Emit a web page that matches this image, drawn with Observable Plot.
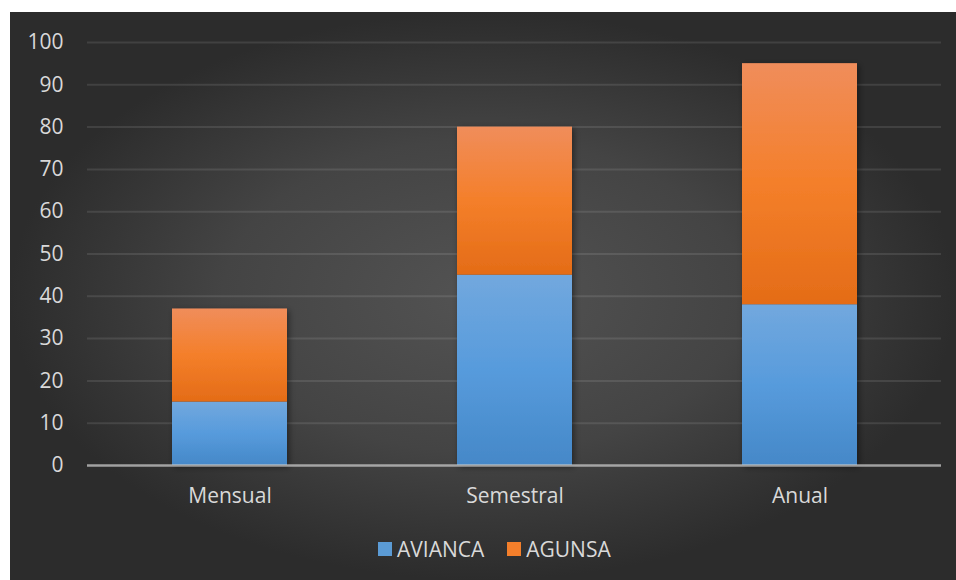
<!DOCTYPE html>
<html>
<head>
<meta charset="utf-8">
<script src="https://cdn.jsdelivr.net/npm/d3@7"></script>
<script src="https://cdn.jsdelivr.net/npm/@observablehq/plot@0.6"></script>
<style>
  html, body { margin: 0; padding: 0; background: #ffffff; }
  body { width: 956px; height: 580px; position: relative; overflow: hidden; }
  #panel {
    position: absolute; left: 10px; top: 12px; width: 946px; height: 568px;
    background: radial-gradient(ellipse closest-side at 50% 50%, #535353 0%, #444444 55%, #2c2c2c 100%);
    font-family: "Open Sans", "DejaVu Sans", sans-serif;
  }
  #chart { position: absolute; left: 0; top: 0; }
  #legend { position: absolute; left: 368px; top: 523px; display: flex; align-items: center; gap: 0; }
  .item { display: flex; align-items: center; color: #d9d9d9; font-size: 21px; margin-right: 23px; }
  .sw { width: 14px; height: 14px; margin-right: 5px; }
</style>
</head>
<body>
<div id="panel">
  <div id="chart"></div>
  <div id="legend"></div>
</div>
<script>
const categories = ["Mensual", "Semestral", "Anual"];
const seriesNames = ["AVIANCA", "AGUNSA"];
const avianca = [15, 45, 38];
const agunsa = [22, 35, 57];
const yTicks = [0, 10, 20, 30, 40, 50, 60, 70, 80, 90, 100];
const swatchColors = ["#5b9bd5", "#f47f2b"];

const values = [avianca, agunsa];
const table = [];
seriesNames.forEach((s, si) => {
  categories.forEach((c, ci) => table.push({category: c, series: s, value: values[si][ci]}));
});

const plot = Plot.plot({
  width: 946,
  height: 520,
  marginLeft: 77,
  marginRight: 15,
  marginTop: 30,
  marginBottom: 67,
  style: {background: "transparent", fontFamily: "'Open Sans', 'DejaVu Sans', sans-serif", fontSize: "21px", color: "#d9d9d9"},
  x: {domain: categories, paddingInner: 0.597, paddingOuter: 0.294, label: null},
  y: {domain: [0, 100], label: null},
  color: {domain: seriesNames, range: ["url(#gBlue)", "url(#gOrange)"]},
  marks: [
    Plot.ruleY(yTicks.filter(d => d > 0), {stroke: "#ffffff", strokeOpacity: 0.1, strokeWidth: 2}),
    Plot.barY(table, Plot.stackY({x: "category", y: "value", fill: "series", order: seriesNames})),
    Plot.ruleY([0], {stroke: "#c8c8c8", strokeOpacity: 0.75, strokeWidth: 2.5}),
    Plot.axisY({ticks: yTicks, tickSize: 0, tickPadding: 24, label: null, fill: "#d9d9d9", fontSize: 21}),
    Plot.axisX({tickSize: 0, tickPadding: 23, label: null, fill: "#d9d9d9", fontSize: 21})
  ]
});

// gradient & shadow defs
const svgNS = "http://www.w3.org/2000/svg";
const defs = document.createElementNS(svgNS, "defs");
defs.innerHTML = `
  <linearGradient id="gBlue" x1="0" y1="0" x2="0" y2="1">
    <stop offset="0" stop-color="#72a8de"/>
    <stop offset="0.5" stop-color="#579bdc"/>
    <stop offset="1" stop-color="#4588c8"/>
  </linearGradient>
  <linearGradient id="gOrange" x1="0" y1="0" x2="0" y2="1">
    <stop offset="0" stop-color="#f08d5b"/>
    <stop offset="0.5" stop-color="#f47f2a"/>
    <stop offset="1" stop-color="#e46c17"/>
  </linearGradient>
  <filter id="shadow" x="-20%" y="-10%" width="140%" height="120%">
    <feDropShadow dx="2" dy="2" stdDeviation="3" flood-color="#000" flood-opacity="0.45"/>
  </filter>`;
plot.insertBefore(defs, plot.firstChild);
const barG = plot.querySelector('g[aria-label="bar"]');
if (barG) barG.setAttribute("filter", "url(#shadow)");

document.getElementById("chart").appendChild(plot);

const legend = document.getElementById("legend");
seriesNames.forEach((s, i) => {
  const item = document.createElement("div");
  item.className = "item";
  const sw = document.createElement("div");
  sw.className = "sw";
  sw.style.background = swatchColors[i];
  const t = document.createElement("span");
  t.textContent = s;
  item.appendChild(sw);
  item.appendChild(t);
  legend.appendChild(item);
});
</script>
</body>
</html>
